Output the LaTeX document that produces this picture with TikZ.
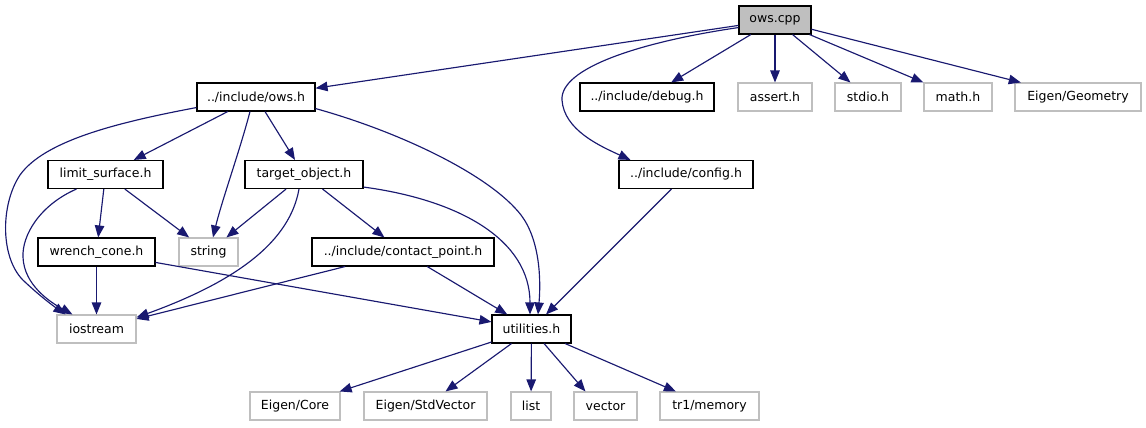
\documentclass[tikz,border=0pt]{standalone}
\usepackage{fontspec}
\setmainfont{DejaVu Sans}
\usetikzlibrary{arrows.meta,calc}
\definecolor{edgecol}{HTML}{191970}
\definecolor{extgray}{HTML}{BFBFBF}
\begin{document}
\begin{tikzpicture}[x=1bp,y=-1bp,
  box/.style={draw=black,line width=1.1bp,fill=white,inner sep=0pt,minimum height=28bp,font=\fontsize{12.5bp}{14bp}\selectfont},
  ext/.style={box,draw=extgray},
  edge/.style={draw=edgecol,line width=1.15bp,-{Triangle[length=12bp,width=9.5bp]}}]
\useasboundingbox (0,0) rectangle (1146,427);
% nodes
\node[box,fill=extgray,minimum width=72bp] (owscpp) at (775,20) {ows.cpp};
\node[box,minimum width=118bp] (owsh) at (256,97) {../include/ows.h};
\node[box,minimum width=134bp] (debug) at (647,97) {../include/debug.h};
\node[ext,minimum width=74bp] (assert) at (775,97) {assert.h};
\node[ext,minimum width=66bp] (stdio) at (868,97) {stdio.h};
\node[ext,minimum width=68bp] (math) at (958,97) {math.h};
\node[ext,minimum width=126bp] (geom) at (1078,97) {Eigen/Geometry};
\node[box,minimum width=115bp] (limsurf) at (105.5,174.5) {limit\_surface.h};
\node[box,minimum width=118bp] (target) at (304,174.5) {target\_object.h};
\node[box,minimum width=134bp] (config) at (686,174.5) {../include/config.h};
\node[box,minimum width=117bp] (wrench) at (96.5,252) {wrench\_cone.h};
\node[ext,minimum width=59bp] (string) at (208.5,252) {string};
\node[box,minimum width=182bp] (contact) at (403,252) {../include/contact\_point.h};
\node[ext,minimum width=79bp] (iostream) at (96.5,329) {iostream};
\node[box,minimum width=79bp] (util) at (531.5,329) {utilities.h};
\node[ext,minimum width=90bp] (core) at (295,406) {Eigen/Core};
\node[ext,minimum width=123bp] (stdvec) at (425.5,406) {Eigen/StdVector};
\node[ext,minimum width=40bp] (list) at (531,406) {list};
\node[ext,minimum width=63bp] (vector) at (605.5,406) {vector};
\node[ext,minimum width=99bp] (memory) at (709.5,406) {tr1/memory};
% edges from ows.cpp
\draw[edge] (owscpp) -- (owsh);
\draw[edge] ($(owscpp.south west)+(0,-7)$) .. controls (640,42) and (560,68) .. (562,100)
  .. controls (564,130) and (600,146) .. ($(config.north west)+(12,0)$);
\draw[edge] (owscpp) -- (debug);
\draw[edge] (owscpp) -- (assert);
\draw[edge] (owscpp) -- (stdio);
\draw[edge] (owscpp) -- (math);
\draw[edge] (owscpp) -- (geom);
% edges from ows.h
\draw[edge] (owsh) -- (limsurf);
\draw[edge] (owsh) -- (target);
\draw[edge] ($(owsh.south)+(-6,0)$) .. controls (240,150) and (222,200) .. ($(string.north)+(4.5,0)$);
\draw[edge] ($(owsh.south west)+(0,-4)$) .. controls (120,122) and (45,140) .. (20,175)
  .. controls (0,205) and (0,260) .. (25,282)
  .. controls (40,296) and (52,305) .. ($(iostream.north west)+(9,0)$);
\draw[edge] ($(owsh.south east)+(0,-3)$) .. controls (400,132) and (490,175) .. (521,215)
  .. controls (540,240) and (541,280) .. ($(util.north)+(6.5,0)$);
% edges from limit_surface.h
\draw[edge] (limsurf) -- (wrench);
\draw[edge] (limsurf) -- (string);
\draw[edge] ($(limsurf.south west)+(29,0)$) .. controls (40,205) and (22,235) .. (23,257)
  .. controls (24,285) and (50,302) .. ($(iostream.north west)+(16,0)$);
% edges from target_object.h
\draw[edge] (target) -- (string);
\draw[edge] (target) -- (contact);
\draw[edge] ($(target.south)+(-5,0)$) .. controls (290,240) and (240,280) .. ($(iostream.north east)+(0,3)$);
\draw[edge] ($(target.south east)+(0,-2)$) .. controls (460,200) and (530,240) .. ($(util.north)+(-1.5,0)$);
% edges from wrench_cone.h
\draw[edge] (wrench) -- (iostream);
\draw[edge] (wrench) -- (util);
% edges from contact_point.h
\draw[edge] (contact) -- (iostream);
\draw[edge] (contact) -- (util);
% config
\draw[edge] (config) -- (util);
% utilities
\draw[edge] (util) -- (core);
\draw[edge] (util) -- (stdvec);
\draw[edge] (util) -- (list);
\draw[edge] (util) -- ($(vector.north west)+(12,0)$);
\draw[edge] (util) -- (memory);
\end{tikzpicture}
\end{document}
